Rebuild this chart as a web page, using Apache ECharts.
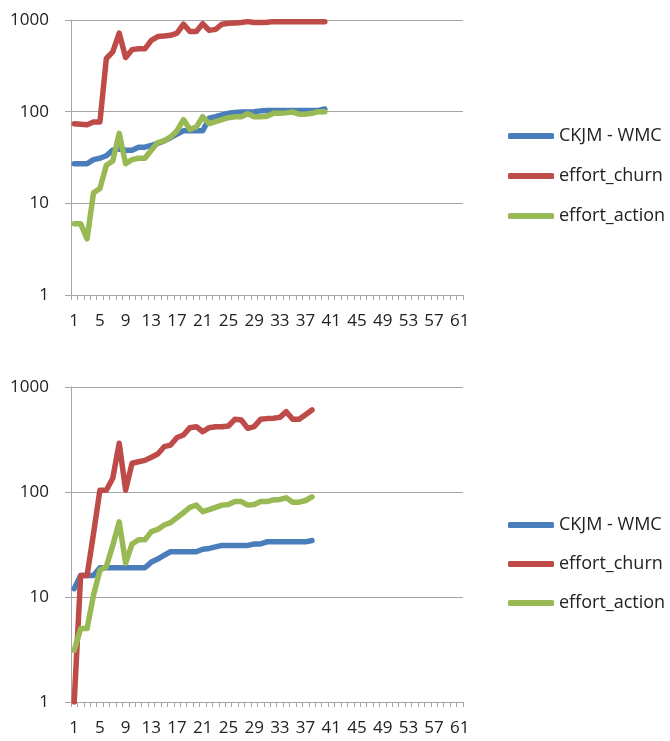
<!DOCTYPE html>
<html>
<head>
<meta charset="utf-8">
<script src="https://cdn.jsdelivr.net/npm/echarts@6/dist/echarts.min.js"></script>
<style>
html,body{margin:0;padding:0;background:#fff;}
#c{width:670px;height:741px;}
</style>
</head>
<body>
<div id="c"></div>
<script>
var categories = ['1','2','3','4','5','6','7','8','9','10','11','12','13','14','15','16','17','18','19','20',
'21','22','23','24','25','26','27','28','29','30','31','32','33','34','35','36','37','38','39','40',
'41','42','43','44','45','46','47','48','49','50','51','52','53','54','55','56','57','58','59','60','61'];
var seriesNames = ['CKJM - WMC', 'effort_churn', 'effort_action'];
var yTickLabels = ['1', '10', '100', '1000'];

// Top chart
var topWmc = [27,27,27,30,31,33,38,40,38,38,41,41,43,45,48,52,57,62,62,62,
              62,85,88,92,96,98,99,99,100,102,103,103,103,103,103,103,103,103,103,107];
var topChurn = [74,73,72,77,77,380,450,720,390,475,485,485,600,660,670,680,720,900,750,750,
                910,770,790,900,920,930,940,960,940,940,945,960,960,960,960,960,960,960,960,960];
var topAction = [6,6,4.1,13,14.5,26,29,58,27,30,31,31,38,46,48,53,62,82,64,68,
                 88,74,78,82,86,88,88,95,88,88,89,96,96,97,99,94,94,96,100,100];

// Bottom chart
var botWmc = [12,16,16,16,19,19,19,19,19,19,19,19,21.5,23,25,27,27,27,27,27,
              28.5,29,30,31,31,31,31,31,32,32,33.5,33.5,33.5,33.5,33.5,33.5,33.5,34.5];
var botChurn = [1,16,16,40,104,104,135,291,104,188,194,200,214,230,270,280,330,349,410,419,
                375,410,419,419,425,492,485,404,419,492,500,503,514,582,492,492,545,605];
var botAction = [3.1,5,5,10.4,18,19.5,31,52,21,32,35,35,42,44,48.5,51,57,63.5,71.5,75,
                 65,68,71.5,75,76,81,81,75,76,81,81,84,85,88,80,80,83,90];

var colors = ['#4A7EBB', '#BE4B48', '#98B954'];
var FONT = 'Open Sans';
var textColor = '#222';
var gridColor = '#A6A6A6';

function xAxis(gi) {
  return {
    type: 'category', gridIndex: gi, data: categories, boundaryGap: true,
    axisLine: {show: true, lineStyle: {color: gridColor, width: 1}},
    axisTick: {show: true, interval: 0, length: 5, lineStyle: {color: gridColor}},
    axisLabel: {interval: 3, margin: 18, color: textColor, fontFamily: FONT, fontSize: 17}
  };
}
function yAxis(gi) {
  return {
    type: 'log', logBase: 10, gridIndex: gi, min: 1, max: 1000,
    axisLine: {show: true, lineStyle: {color: gridColor, width: 1}},
    axisTick: {show: true, length: 6, lineStyle: {color: gridColor}},
    splitLine: {show: true, lineStyle: {color: gridColor, width: 1}},
    axisLabel: {margin: 22, color: textColor, fontFamily: FONT, fontSize: 17,
      formatter: function (v) { var i = Math.round(Math.log10(v)); return yTickLabels[i] !== undefined ? yTickLabels[i] : String(v); }}
  };
}
function line(name, data, gi, ci) {
  return {
    name: name, type: 'line', xAxisIndex: gi, yAxisIndex: gi, data: data,
    showSymbol: false, symbol: 'none', color: colors[ci],
    lineStyle: {width: 5.5, color: colors[ci], cap: 'round', join: 'round'},
    emphasis: {disabled: true}
  };
}
function legend(top, gap) {
  return {
    orient: 'vertical', left: 503, top: top, itemGap: gap,
    icon: 'roundRect', itemWidth: 46, itemHeight: 6,
    data: seriesNames,
    textStyle: {color: textColor, fontFamily: FONT, fontSize: 18, lineHeight: 20},
    selectedMode: false
  };
}

var chart = echarts.init(document.getElementById('c'), null, {renderer: 'canvas'});
chart.setOption({
  animation: false,
  backgroundColor: '#fff',
  grid: [
    {left: 71, top: 20, width: 392, height: 275},
    {left: 71, top: 387, width: 392, height: 315}
  ],
  xAxis: [xAxis(0), xAxis(1)],
  yAxis: [yAxis(0), yAxis(1)],
  legend: [legend(121, 20), legend(510, 19)],
  series: [
    line(seriesNames[0], topWmc, 0, 0),
    line(seriesNames[1], topChurn, 0, 1),
    line(seriesNames[2], topAction, 0, 2),
    line(seriesNames[0], botWmc, 1, 0),
    line(seriesNames[1], botChurn, 1, 1),
    line(seriesNames[2], botAction, 1, 2)
  ]
});
</script>
</body>
</html>
